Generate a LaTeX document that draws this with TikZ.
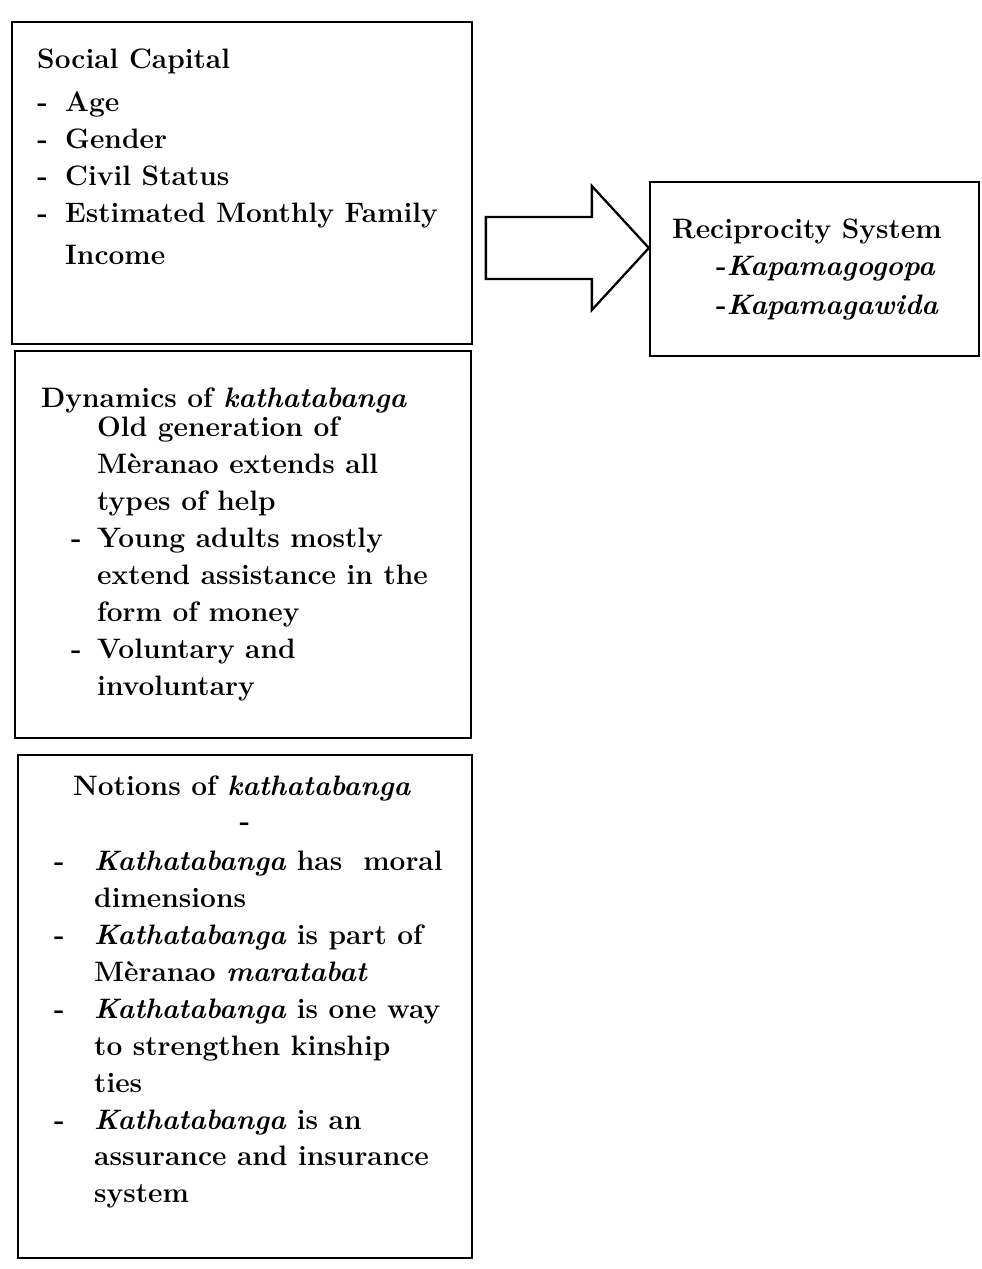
\documentclass[tikz,border=0pt]{standalone}
\usepackage{tikz}
\usetikzlibrary{positioning, calc}
\newcommand{\dashmark}[1]{\llap{\makebox[#1][l]{-}}}

\begin{document}
\begin{tikzpicture}[
    frame/.style={rectangle, draw=black, line width=1.3pt, inner sep=0pt},
    heading/.style={inner sep=0pt, anchor=north west, font=\fontsize{16}{21}\selectfont\bfseries},
    items/.style={inner sep=0pt, anchor=north west, align=left, font=\fontsize{16}{21}\selectfont\bfseries},
    bigarrow/.style={draw=black, line width=1.3pt, line join=miter}
  ]
    \useasboundingbox (0,0) rectangle (19.64,-25.38);

    % boxes
    \node[frame, minimum width=9.2cm, minimum height=6.44cm] (soc) at (4.84,-3.66) {};
    \node[frame, minimum width=9.12cm, minimum height=7.74cm] (dyn) at (4.86,-10.89) {};
    \node[frame, minimum width=9.08cm, minimum height=10.06cm] (notn) at (4.90,-20.13) {};
    \node[frame, minimum width=6.58cm, minimum height=3.48cm] (rec) at (16.29,-5.38) {};

    % social capital
    \node[heading] (soctitle) at ($(soc.north west)+(0.52,-0.56)$) {Social Capital};
    \node[items] (soclist) at ($(soc.north west)+(1.08,-1.42)$) {%
      \dashmark{15.9pt}Age\\
      \dashmark{15.9pt}Gender\\
      \dashmark{15.9pt}Civil Status\\
      \dashmark{15.9pt}Estimated Monthly Family\\[3pt]
      Income};

    % dynamics
    \node[heading] (dyntitle) at ($(dyn.north west)+(0.54,-0.76)$) {Dynamics of \textit{kathatabanga}};
    \node[items] (dynlist) at ($(dyn.north west)+(1.66,-1.34)$) {%
      Old generation of\\
      Mèranao extends all\\
      types of help\\
      \dashmark{14.8pt}Young adults mostly\\
      extend assistance in the\\
      form of money\\
      \dashmark{14.8pt}Voluntary and\\
      involuntary};

    % notions
    \node[heading, anchor=north] (notntitle) at ($(notn.north)+(-0.06,-0.44)$) {Notions of \textit{kathatabanga}};
    \node[heading, anchor=center] (notndash) at ($(notn.north)+(0,-1.46)$) {-};
    \node[items] (notnlist) at ($(notn.north west)+(1.54,-1.94)$) {%
      \dashmark{22.8pt}\textit{Kathatabanga} has\ \ moral\\
      dimensions\\
      \dashmark{22.8pt}\textit{Kathatabanga} is part of\\
      Mèranao \textit{maratabat}\\
      \dashmark{22.8pt}\textit{Kathatabanga} is one way\\
      to strengthen kinship\\
      ties\\
      \dashmark{22.8pt}\textit{Kathatabanga} is an\\
      assurance and insurance\\
      system};

    % reciprocity
    \node[heading] (rectitle) at ($(rec.north west)+(0.46,-0.76)$) {Reciprocity System};
    \node[items] (reclist) at ($(rec.north west)+(1.34,-1.5)$) {%
      -\textit{Kapamagogopa}\\[1pt]
      -\textit{Kapamagawida}};

    % block arrow
    \coordinate (tip) at ($(rec.west)+(0,0.42)$);
    \draw[bigarrow] (tip) -- ++(-1.14,1.24) -- ++(0,-0.62) -- ++(-2.12,0)
      -- ++(0,-1.24) -- ++(2.12,0) -- ++(0,-0.62) -- cycle;
\end{tikzpicture}
\end{document}
